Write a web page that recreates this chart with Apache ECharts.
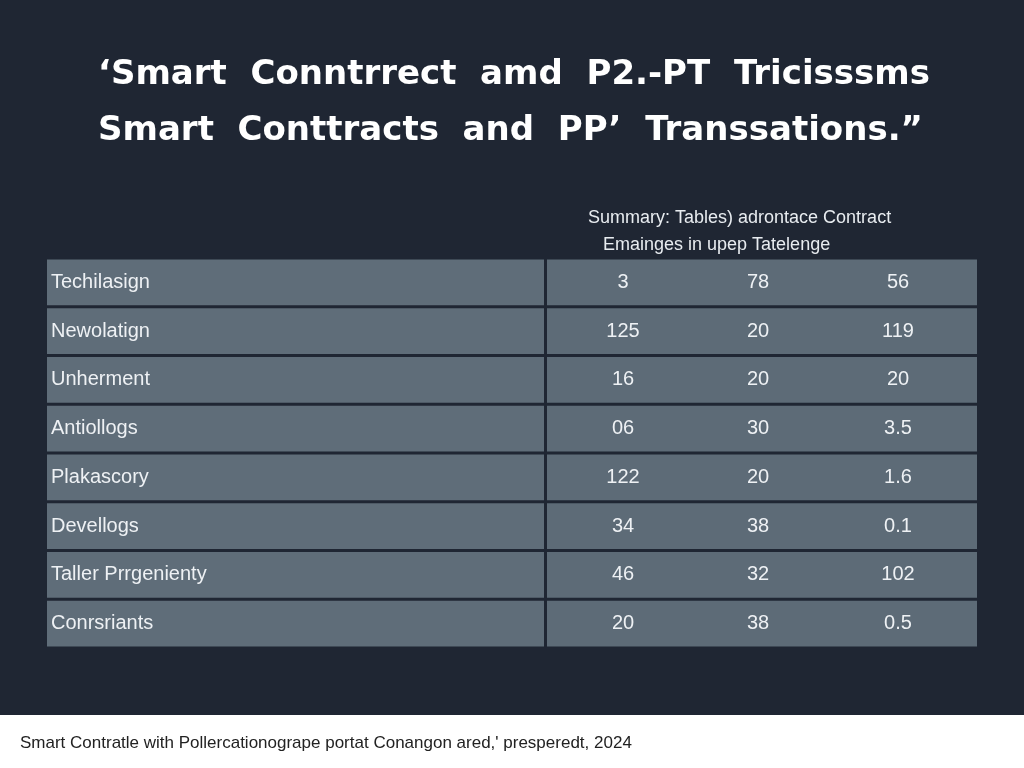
<!DOCTYPE html>
<html><head><meta charset="utf-8">
<script src="https://cdn.jsdelivr.net/npm/echarts@6/dist/echarts.min.js"></script>
<style>html,body{margin:0;padding:0;background:#1f2633}#c{width:1024px;height:768px}</style>
</head><body><div id="c"></div>
<script>
const rowLabels = ['Techilasign','Newolatign','Unherment','Antiollogs','Plakascory','Devellogs','Taller Prrgenienty','Conrsriants'];
const col1 = ['3','125','16','06','122','34','46','20'];
const col2 = ['78','20','20','30','20','38','32','38'];
const col3 = ['56','119','20','3.5','1.6','0.1','102','0.5'];
const titleLines = ['‘Smart  Conntrrect  amd  P2.-PT  Tricisssms','Smart  Conttracts  and  PP’  Transsations.”'];
const subtitleLines = ['Summary: Tables) adrontace Contract','   Emainges in upep Tatelenge'];
const footer = 'Smart Contratle with Pollercationogrape portat Conangon ared,\' presperedt, 2024';

const chart = echarts.init(document.getElementById('c'));
const data = rowLabels.map((l,i)=>[i,l,col1[i],col2[i],col3[i]]);
chart.setOption({
  backgroundColor:'#1f2633',
  title:[
    {text:titleLines.join('\n'),left:93,top:42,textStyle:{color:'#ffffff',fontSize:34,fontWeight:'bold',fontFamily:'DejaVu Sans',lineHeight:56}},
    {text:subtitleLines.join('\n'),left:583,top:200,textStyle:{color:'#e8ecf0',fontSize:18,fontWeight:'normal',fontFamily:'Liberation Sans',lineHeight:27}}
  ],
  grid:{left:47,right:47,top:258,height:390},
  xAxis:{type:'value',min:0,max:930,show:false},
  yAxis:{type:'category',data:rowLabels,inverse:true,show:false},
  series:[{
    type:'custom',
    data:data,
    encode:{y:0},
    renderItem:function(params,api){
      const idx = api.value(0);
      const c = api.coord([0,idx]);
      const h = api.size([0,1])[1];
      const top = c[1]-h/2+1.5, hh = h-3;
      const x0=api.coord([0,idx])[0], x1=api.coord([497,idx])[0], x2=api.coord([500,idx])[0], x3=api.coord([930,idx])[0];
      const ts={fill:'#eef1f4',fontSize:20,fontFamily:'Liberation Sans',textVerticalAlign:'middle'};
      const d = data[idx];
      return {type:'group',children:[
        {type:'rect',shape:{x:x0,y:top,width:x1-x0,height:hh},style:{fill:'#5f6d79'}},
        {type:'rect',shape:{x:x2,y:top,width:x3-x2,height:hh},style:{fill:'#5d6b77'}},
        {type:'text',style:Object.assign({text:d[1],x:x0+4,y:c[1],textAlign:'left'},ts)},
        {type:'text',style:Object.assign({text:d[2],x:api.coord([576,idx])[0],y:c[1],textAlign:'center'},ts)},
        {type:'text',style:Object.assign({text:d[3],x:api.coord([711,idx])[0],y:c[1],textAlign:'center'},ts)},
        {type:'text',style:Object.assign({text:d[4],x:api.coord([851,idx])[0],y:c[1],textAlign:'center'},ts)}
      ]};
    }
  }],
  graphic:[
    {type:'rect',left:0,top:715,shape:{width:1024,height:53},style:{fill:'#ffffff'}},
    {type:'text',left:20,top:735,style:{text:footer,fill:'#222',fontSize:17,fontFamily:'Liberation Sans'}}
  ]
});
</script></body></html>
